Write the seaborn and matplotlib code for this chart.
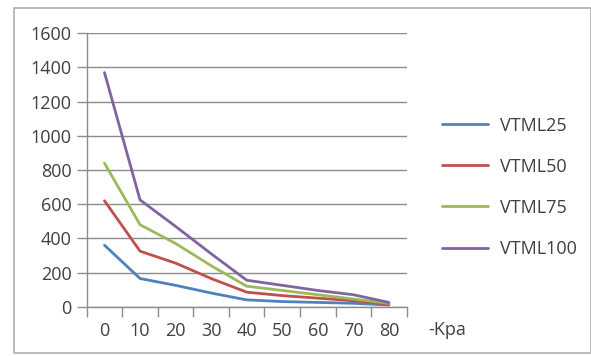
import numpy as np
import pandas as pd
import matplotlib
matplotlib.use("Agg")
import matplotlib.pyplot as plt
from matplotlib.patches import Rectangle
from matplotlib.ticker import FixedLocator
import seaborn as sns

categories = ["0", "10", "20", "30", "40", "50", "60", "70", "80"]
vtml25 = [360, 165, 125, 80, 40, 30, 25, 20, 10]
vtml50 = [620, 325, 255, 165, 85, 65, 50, 35, 15]
vtml75 = [840, 480, 370, 240, 120, 95, 70, 45, 20]
vtml100 = [1370, 625, 470, 310, 155, 125, 95, 70, 25]
series_names = ["VTML25", "VTML50", "VTML75", "VTML100"]
y_ticks = [0, 200, 400, 600, 800, 1000, 1200, 1400, 1600]

rows = []
for name, vals in zip(series_names, [vtml25, vtml50, vtml75, vtml100]):
    for i, v in enumerate(vals):
        rows.append({"pos": i, "value": v, "series": name})
df = pd.DataFrame(rows)

sns.set_style("white")
plt.rcParams["font.family"] = ["Open Sans", "DejaVu Sans"]
FS = 13

W, H = 591, 356
fig = plt.figure(figsize=(W / 100, H / 100), dpi=100)
ax = fig.add_axes([86.7 / W, 1 - 306.7 / H, 320 / W, 273.4 / H])

palette = {"VTML25": "#4F81BD", "VTML50": "#C0504D", "VTML75": "#9BBB59", "VTML100": "#8064A2"}
sns.lineplot(data=df, x="pos", y="value", hue="series", palette=palette,
             linewidth=2, ax=ax, legend=True)

ax.set_xlim(-0.5, len(categories) - 0.5)
ax.set_ylim(0, 1600)
ax.set_yticks(y_ticks)
ax.set_xticks(range(len(categories)))
ax.set_xticklabels(categories)
ax.xaxis.set_minor_locator(FixedLocator(np.arange(-0.5, len(categories), 1.0)))
ax.tick_params(axis="x", which="major", length=0, pad=11, labelsize=FS, colors="#404040")
ax.tick_params(axis="x", which="minor", length=7, width=1, color="#8c8c8c", direction="out", bottom=True)
ax.tick_params(axis="y", length=7, width=1, color="#8c8c8c", direction="out", pad=4,
               labelsize=FS, labelcolor="#404040", left=True)
ax.set_xlabel("")
ax.set_ylabel("")
ax.grid(axis="y", color="#8c8c8c", linewidth=1)
ax.set_axisbelow(True)
for s in ["top", "right"]:
    ax.spines[s].set_visible(False)
for s in ["left", "bottom"]:
    ax.spines[s].set_color("#8c8c8c")
    ax.spines[s].set_linewidth(1)

handles, labels = ax.get_legend_handles_labels()
ax.get_legend().remove()
fig.legend(handles, labels, loc="upper left", bbox_to_anchor=(442 / W, 1 - 116.5 / H),
           frameon=False, borderpad=0, borderaxespad=0, handlelength=2.55,
           handletextpad=0.66, labelspacing=1.28, fontsize=FS, labelcolor="#404040")

fig.text(428 / W, 1 - 330 / H, "-Kpa", ha="left", va="center", fontsize=FS, color="#404040")

fig.patches.append(Rectangle((14 / W, 1 - 353 / H), (W - 14.5) / W, (353 - 8) / H,
                             transform=fig.transFigure, fill=False,
                             edgecolor="#b0b0b0", linewidth=1.2))

fig.savefig("out.png", dpi=100)
